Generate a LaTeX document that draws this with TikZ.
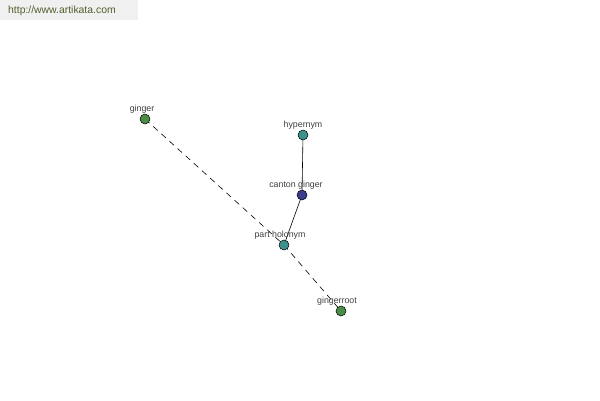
\documentclass[tikz,border=0pt]{standalone}
\usepackage{fontspec}
\setmainfont{Liberation Sans}
\begin{document}
\begin{tikzpicture}[x=1pt,y=-1pt,
  dot/.style={circle,draw=black,line width=0.5pt,minimum size=10pt,inner sep=0pt},
  lbl/.style={font=\fontsize{8.8}{9}\selectfont,text=black!75,inner sep=0pt},
  edge/.style={draw=black,line width=0.6pt},
  dashedge/.style={draw=black,line width=0.6pt,dash pattern=on 6pt off 5pt}]
\useasboundingbox[fill=white] (0,0) rectangle (600,400);
\fill[black!6] (0,0) rectangle (138,20);
\node[anchor=west,font=\fontsize{10.4}{11}\selectfont,text={rgb,255:red,80;green,95;blue,45},inner sep=0pt] (url) at (8,11) {http://www.artikata.com};
\definecolor{cginger}{RGB}{75,140,70}
\definecolor{cteal}{RGB}{60,145,140}
\definecolor{cblue}{RGB}{60,60,140}
\coordinate (pg) at (145,119);
\coordinate (ph) at (303,135);
\coordinate (pc) at (302,195);
\coordinate (pp) at (284,245);
\coordinate (pr) at (341,311);
\draw[dashedge] (pg) -- (pp);
\draw[dashedge] (pp) -- (pr);
\draw[edge] (ph) -- (pc);
\draw[edge] (pc) -- (pp);
\node[dot,fill=cginger] (ginger) at (pg) {};
\node[dot,fill=cteal] (hyper) at (ph) {};
\node[dot,fill=cblue] (canton) at (pc) {};
\node[dot,fill=cteal] (part) at (pp) {};
\node[dot,fill=cginger] (root) at (pr) {};
\node[lbl] (lginger) at (142,109) {ginger};
\node[lbl] (lhyper) at (303,125) {hypernym};
\node[lbl] (lcanton) at (296,185) {canton ginger};
\node[lbl] (lpart) at (280,235) {part holonym};
\node[lbl] (lroot) at (337,301) {gingerroot};
\end{tikzpicture}
\end{document}
